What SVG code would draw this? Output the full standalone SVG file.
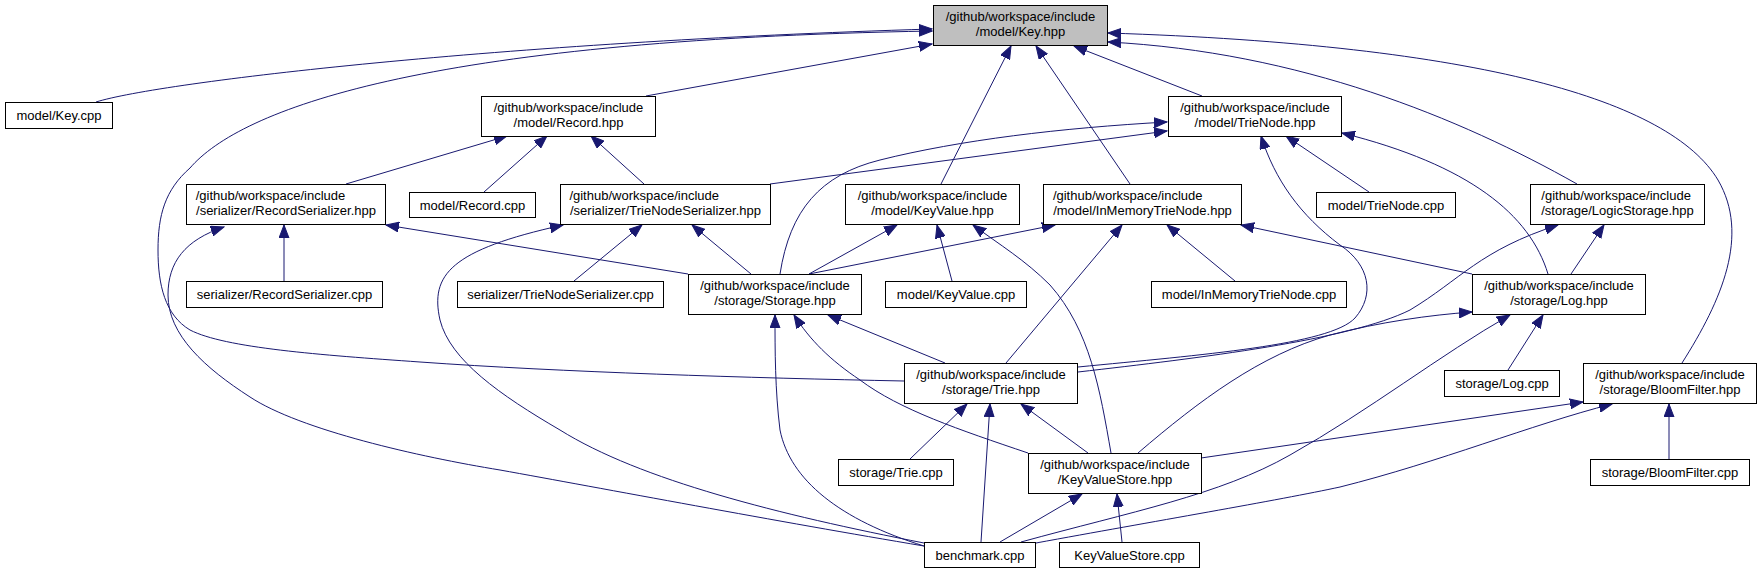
<svg xmlns="http://www.w3.org/2000/svg" width="1761" height="573" viewBox="0 0 1761 573">
<defs>
<style>
.n rect{fill:#ffffff;stroke:#000000;stroke-width:1}
.n.root rect{fill:#bfbfbf}
text{font-family:"Liberation Sans",Arial,Helvetica,sans-serif;font-size:13px;fill:#000000}
.m{text-anchor:middle}
.s{text-anchor:start}
#edges path{fill:none;stroke:#191970;stroke-width:1;marker-end:url(#ah)}
</style>
<marker id="ah" markerWidth="14" markerHeight="11" refX="13" refY="5.5" orient="auto" markerUnits="userSpaceOnUse">
<path d="M0,0.5 L13,5.5 L0,10.5 z" fill="#191970" stroke="#191970" stroke-width="1"/>
</marker>
</defs>
<rect x="0" y="0" width="1761" height="573" fill="#ffffff"/>

<g id="edges">
<path d="M96,102 C160,82 500,42 932,29"/>
<path d="M904,381 C750,378 560,372 420,362 C320,355 225,348 190,330 C165,315 158,285 158,250 C158,215 165,190 190,168 C240,110 420,40 932,31"/>
<path d="M646,96 L932,44"/>
<path d="M941,184 L1011,46"/>
<path d="M1130,184 L1036,46"/>
<path d="M1202,96 L1074,46"/>
<path d="M1577,184 C1460,118 1300,52 1108,42"/>
<path d="M1682,363 C1722,300 1750,235 1718,180 C1670,100 1480,45 1108,33"/>
<path d="M346,184 L507,136"/>
<path d="M484,192 L547,136"/>
<path d="M644,184 L591,136"/>
<path d="M770,184 L1167,131"/>
<path d="M780,274 C790,210 820,175 880,160 C960,140 1060,128 1167,122"/>
<path d="M1078,367 C1200,355 1330,345 1355,318 C1375,295 1370,265 1340,245 C1300,215 1275,180 1261,136"/>
<path d="M1548,274 C1530,215 1470,165 1342,133"/>
<path d="M1369,192 L1286,136"/>
<path d="M284,281 L284,225"/>
<path d="M688,274 L386,225"/>
<path d="M924,546 C780,522 600,488 500,470 C420,457 300,430 250,397 C205,368 168,335 168,295 C168,262 185,240 224,227"/>
<path d="M574,281 L642,225"/>
<path d="M751,274 L692,225"/>
<path d="M924,543 C780,515 640,480 560,430 C500,395 450,360 440,320 C430,275 450,250 563,225"/>
<path d="M809,274 L897,225"/>
<path d="M952,281 L937,225"/>
<path d="M1111,453 C1100,390 1090,330 1050,285 C1025,260 1000,245 973,225"/>
<path d="M809,274 L1055,225"/>
<path d="M1006,363 L1122,225"/>
<path d="M1235,281 L1167,225"/>
<path d="M1472,274 L1241,225"/>
<path d="M945,363 L828,315"/>
<path d="M1028,453 C960,430 900,410 860,380 C830,360 810,340 794,315"/>
<path d="M924,546 C840,520 790,480 780,430 C775,390 775,350 775,315"/>
<path d="M1138,453 C1200,400 1260,355 1330,335 C1380,322 1430,315 1472,312"/>
<path d="M1021,542 C1130,512 1220,495 1290,455 C1370,410 1440,355 1510,315"/>
<path d="M1508,370 L1543,315"/>
<path d="M1571,274 L1604,225"/>
<path d="M1078,372 C1200,358 1350,340 1410,310 C1460,280 1480,250 1558,225"/>
<path d="M910,459 L967,404"/>
<path d="M981,542 L990,404"/>
<path d="M1088,453 L1021,404"/>
<path d="M1000,542 L1082,494"/>
<path d="M1122,542 L1117,494"/>
<path d="M1201,458 L1583,402"/>
<path d="M1669,459 L1669,404"/>
<path d="M1036,543 C1150,522 1280,500 1340,487 C1440,462 1530,425 1612,404"/>
</g>

<g id="node_key_hpp" class="n root"><rect x="933.5" y="5.5" width="174" height="40"/><text class="m" x="1020.5" y="21">/github/workspace/include</text><text class="m" x="1020.5" y="36">/model/Key.hpp</text></g>
<g id="node_key_cpp" class="n"><rect x="5.5" y="102.5" width="107" height="26"/><text class="m" x="59" y="120">model/Key.cpp</text></g>
<g id="node_record_hpp" class="n"><rect x="481.5" y="96.5" width="174" height="40"/><text class="m" x="568.5" y="112">/github/workspace/include</text><text class="m" x="568.5" y="127">/model/Record.hpp</text></g>
<g id="node_trienode_hpp" class="n"><rect x="1168.5" y="96.5" width="173" height="40"/><text class="m" x="1255" y="112">/github/workspace/include</text><text class="m" x="1255" y="127">/model/TrieNode.hpp</text></g>
<g id="node_recordserializer_hpp" class="n"><rect x="186.5" y="184.5" width="199" height="40"/><text class="s" x="195.7" y="200">/github/workspace/include</text><text class="m" x="286" y="215">/serializer/RecordSerializer.hpp</text></g>
<g id="node_record_cpp" class="n"><rect x="409.5" y="192.5" width="126" height="25"/><text class="m" x="472.5" y="209.5">model/Record.cpp</text></g>
<g id="node_trienodeserializer_hpp" class="n"><rect x="560.5" y="184.5" width="210" height="40"/><text class="s" x="569.4" y="200">/github/workspace/include</text><text class="m" x="665.5" y="215">/serializer/TrieNodeSerializer.hpp</text></g>
<g id="node_keyvalue_hpp" class="n"><rect x="845.5" y="184.5" width="174" height="40"/><text class="m" x="932.5" y="200">/github/workspace/include</text><text class="m" x="932.5" y="215">/model/KeyValue.hpp</text></g>
<g id="node_inmemorytrienode_hpp" class="n"><rect x="1043.5" y="184.5" width="198" height="40"/><text class="s" x="1052.9" y="200">/github/workspace/include</text><text class="m" x="1142.5" y="215">/model/InMemoryTrieNode.hpp</text></g>
<g id="node_trienode_cpp" class="n"><rect x="1316.5" y="192.5" width="139" height="25"/><text class="m" x="1386" y="209.5">model/TrieNode.cpp</text></g>
<g id="node_logicstorage_hpp" class="n"><rect x="1530.5" y="184.5" width="174" height="40"/><text class="s" x="1541.3" y="200">/github/workspace/include</text><text class="m" x="1617.5" y="215">/storage/LogicStorage.hpp</text></g>
<g id="node_recordserializer_cpp" class="n"><rect x="186.5" y="281.5" width="196" height="26"/><text class="m" x="284.5" y="299">serializer/RecordSerializer.cpp</text></g>
<g id="node_trienodeserializer_cpp" class="n"><rect x="457.5" y="281.5" width="206" height="26"/><text class="m" x="560.5" y="299">serializer/TrieNodeSerializer.cpp</text></g>
<g id="node_storage_hpp" class="n"><rect x="688.5" y="274.5" width="173" height="40"/><text class="m" x="775" y="290">/github/workspace/include</text><text class="m" x="775" y="305">/storage/Storage.hpp</text></g>
<g id="node_keyvalue_cpp" class="n"><rect x="885.5" y="281.5" width="141" height="26"/><text class="m" x="956" y="299">model/KeyValue.cpp</text></g>
<g id="node_inmemorytrienode_cpp" class="n"><rect x="1151.5" y="281.5" width="195" height="26"/><text class="m" x="1249" y="299">model/InMemoryTrieNode.cpp</text></g>
<g id="node_log_hpp" class="n"><rect x="1472.5" y="274.5" width="173" height="40"/><text class="m" x="1559" y="290">/github/workspace/include</text><text class="m" x="1559" y="305">/storage/Log.hpp</text></g>
<g id="node_trie_hpp" class="n"><rect x="904.5" y="363.5" width="173" height="40"/><text class="m" x="991" y="379">/github/workspace/include</text><text class="m" x="991" y="394">/storage/Trie.hpp</text></g>
<g id="node_log_cpp" class="n"><rect x="1444.5" y="370.5" width="115" height="26"/><text class="m" x="1502" y="388">storage/Log.cpp</text></g>
<g id="node_bloomfilter_hpp" class="n"><rect x="1583.5" y="363.5" width="173" height="40"/><text class="m" x="1670" y="379">/github/workspace/include</text><text class="m" x="1670" y="394">/storage/BloomFilter.hpp</text></g>
<g id="node_trie_cpp" class="n"><rect x="838.5" y="459.5" width="115" height="26"/><text class="m" x="896" y="477">storage/Trie.cpp</text></g>
<g id="node_keyvaluestore_hpp" class="n"><rect x="1028.5" y="453.5" width="173" height="40"/><text class="m" x="1115" y="469">/github/workspace/include</text><text class="m" x="1115" y="484">/KeyValueStore.hpp</text></g>
<g id="node_bloomfilter_cpp" class="n"><rect x="1590.5" y="459.5" width="159" height="26"/><text class="m" x="1670" y="477">storage/BloomFilter.cpp</text></g>
<g id="node_benchmark_cpp" class="n"><rect x="924.5" y="542.5" width="111" height="25"/><text class="m" x="980" y="559.5">benchmark.cpp</text></g>
<g id="node_keyvaluestore_cpp" class="n"><rect x="1059.5" y="542.5" width="140" height="25"/><text class="m" x="1129.5" y="559.5">KeyValueStore.cpp</text></g>
</svg>
